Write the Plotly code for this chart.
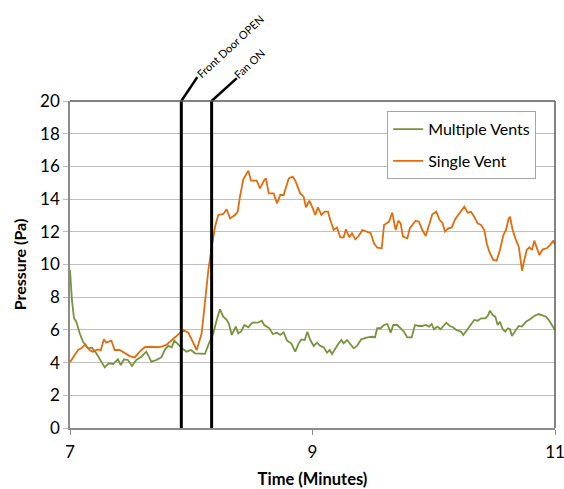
import plotly.graph_objects as go

# ---- data ----
single_t = [7.0, 7.066, 7.093, 7.126, 7.162, 7.190, 7.231, 7.253, 7.280, 7.299, 7.341, 7.369, 7.410,
            7.451, 7.492, 7.534, 7.575, 7.616, 7.671, 7.712, 7.753, 7.794, 7.825, 7.866, 7.907, 7.934,
            7.976, 8.004, 8.045, 8.086, 8.113, 8.141, 8.169, 8.196, 8.223, 8.264, 8.292, 8.320, 8.361,
            8.383, 8.402, 8.429, 8.471, 8.493, 8.540, 8.567, 8.602, 8.616, 8.639, 8.680, 8.707, 8.734,
            8.762, 8.804, 8.837, 8.858, 8.899, 8.927, 8.946, 8.974, 8.996, 9.023, 9.045, 9.073, 9.101,
            9.128, 9.147, 9.175, 9.202, 9.229, 9.257, 9.276, 9.304, 9.326, 9.353, 9.381, 9.411, 9.452,
            9.480, 9.507, 9.534, 9.571, 9.590, 9.631, 9.658, 9.686, 9.708, 9.727, 9.746, 9.782, 9.802,
            9.829, 9.851, 9.878, 9.906, 9.934, 9.961, 9.988, 10.021, 10.049, 10.071, 10.093, 10.120,
            10.148, 10.175, 10.202, 10.225, 10.252, 10.280, 10.307, 10.334, 10.362, 10.390, 10.417,
            10.437, 10.458, 10.491, 10.519, 10.546, 10.574, 10.596, 10.618, 10.629, 10.651, 10.673,
            10.701, 10.720, 10.728, 10.747, 10.767, 10.788, 10.810, 10.829, 10.849, 10.871, 10.899,
            10.932, 10.959, 10.986, 11.0]
single_v = [4.02, 4.77, 4.87, 5.12, 4.75, 4.67, 4.81, 4.75, 5.42, 5.22, 5.34, 4.77, 4.77,
            4.57, 4.40, 4.32, 4.67, 4.94, 4.97, 4.94, 4.97, 5.08, 5.28, 5.58, 5.83, 5.99,
            5.83, 5.38, 4.77, 5.79, 7.63, 9.66, 11.09, 12.31, 13.03, 13.09, 13.38, 12.82, 13.03,
            13.23, 14.15, 15.21, 15.74, 15.13, 15.13, 14.66, 15.17, 15.27, 14.35, 14.35, 13.74, 14.25,
            14.25, 15.27, 15.37, 15.13, 14.35, 14.15, 13.50, 13.90, 13.54, 13.03, 13.50, 13.03, 13.23,
            13.23, 12.72, 12.11, 12.27, 11.66, 11.66, 12.15, 11.66, 11.91, 11.54, 11.74, 12.11, 12.01,
            11.91, 11.30, 11.03, 10.99, 12.42, 12.62, 13.17, 12.11, 12.68, 12.52, 11.70, 11.60, 12.21,
            12.48, 12.68, 12.62, 12.11, 11.74, 12.42, 13.07, 13.23, 12.72, 12.56, 12.01, 12.21,
            12.27, 12.76, 13.03, 13.23, 13.54, 13.17, 13.23, 12.92, 12.52, 12.42, 12.11,
            11.30, 10.78, 10.28, 10.23, 10.89, 11.80, 12.11, 12.82, 12.92, 12.11, 11.60,
            11.09, 10.07, 9.62, 10.28, 10.89, 11.05, 10.89, 11.46, 10.99, 10.58, 10.93,
            10.99, 11.19, 11.46, 11.20]

multi_t = [7.0, 7.016, 7.033, 7.052, 7.080, 7.107, 7.148, 7.181, 7.217, 7.258, 7.286, 7.319, 7.355,
           7.396, 7.418, 7.445, 7.478, 7.511, 7.547, 7.588, 7.629, 7.671, 7.712, 7.753, 7.784, 7.811,
           7.839, 7.860, 7.893, 7.934, 7.962, 7.998, 8.031, 8.072, 8.113, 8.141, 8.182, 8.210, 8.237,
           8.264, 8.292, 8.311, 8.334, 8.367, 8.388, 8.410, 8.438, 8.471, 8.504, 8.548, 8.581, 8.602,
           8.616, 8.644, 8.672, 8.707, 8.734, 8.762, 8.790, 8.825, 8.858, 8.886, 8.908, 8.936, 8.957,
           8.982, 9.010, 9.037, 9.064, 9.092, 9.120, 9.142, 9.161, 9.188, 9.216, 9.238, 9.257, 9.285,
           9.312, 9.340, 9.367, 9.402, 9.452, 9.493, 9.515, 9.534, 9.562, 9.590, 9.617, 9.645, 9.666,
           9.699, 9.727, 9.755, 9.782, 9.818, 9.845, 9.878, 9.906, 9.934, 9.961, 9.983, 10.002,
           10.029, 10.057, 10.085, 10.103, 10.132, 10.159, 10.186, 10.225, 10.244, 10.272, 10.307,
           10.334, 10.362, 10.390, 10.425, 10.445, 10.464, 10.486, 10.508, 10.527, 10.546, 10.569,
           10.590, 10.610, 10.629, 10.645, 10.673, 10.701, 10.728, 10.761, 10.794, 10.829, 10.866,
           10.893, 10.926, 10.953, 10.981, 11.0]
multi_v = [9.66, 7.83, 6.71, 6.50, 5.79, 5.28, 4.87, 4.91, 4.57, 4.06, 3.71, 3.96, 3.91,
           4.20, 3.85, 4.20, 4.16, 3.79, 4.16, 4.36, 4.67, 4.06, 4.16, 4.32, 4.81, 5.02,
           4.94, 5.34, 5.08, 4.81, 4.67, 4.77, 4.57, 4.53, 4.53, 5.08, 5.79, 6.61, 7.26,
           6.81, 6.61, 6.36, 5.69, 6.20, 5.79, 5.89, 6.30, 6.16, 6.44, 6.44, 6.56, 6.30,
           6.24, 6.10, 5.75, 5.83, 5.69, 5.85, 5.34, 5.18, 4.67, 5.18, 5.42, 5.38, 5.89,
           5.38, 5.02, 5.22, 5.02, 4.94, 4.61, 4.77, 4.53, 4.87, 5.18, 5.38, 5.18, 5.38,
           5.12, 4.87, 5.02, 5.42, 5.54, 5.58, 5.54, 6.10, 6.10, 6.30, 6.36, 5.83, 6.30,
           6.30, 6.10, 5.89, 5.54, 5.54, 6.30, 6.24, 6.24, 6.30, 6.20, 6.36, 6.04,
           6.20, 6.04, 6.30, 6.44, 6.24, 6.16, 5.99, 5.89, 5.69, 5.99, 6.30,
           6.61, 6.56, 6.71, 6.71, 6.85, 7.18, 6.91, 6.81, 6.30, 6.50, 6.04,
           5.89, 6.10, 6.04, 5.63, 5.95, 6.24, 6.20, 6.50, 6.65, 6.85, 6.97,
           6.91, 6.81, 6.56, 6.20, 5.99]

event_times = [7.918, 8.168]
event_labels = ["Front Door OPEN", "Fan ON"]

x_ticks = [7, 9, 11]
y_ticks = list(range(0, 21, 2))

FONT = "Lato, Carlito, Calibri, sans-serif"
GREEN = "#77933C"
ORANGE = "#E46C0A"
GRID = "#BFBFBF"

X0, X1 = 7, 11
Y0, Y1 = 0, 20

fig = go.Figure()
fig.add_trace(go.Scatter(x=multi_t, y=multi_v, mode="lines", name="Multiple Vents",
                         line=dict(color=GREEN, width=1.8), legendgroup="a"))
fig.add_trace(go.Scatter(x=single_t, y=single_v, mode="lines", name="Single Vent",
                         line=dict(color=ORANGE, width=1.8), legendgroup="b"))

# event lines
for t in event_times:
    fig.add_shape(type="line", xref="x", yref="y", x0=t, x1=t, y0=Y0, y1=Y1,
                  line=dict(color="black", width=3), layer="above")

# diagonal leaders and rotated labels (paper coordinates derived from event times)
leader = [(0.033, 0.073), (0.052, 0.070)]
label_off = [(0.100, 0.168), (0.078, 0.114)]
for t, lab, (dx, dy), (lx, ly) in zip(event_times, event_labels, leader, label_off):
    px = (t - X0) / (X1 - X0)
    fig.add_shape(type="line", xref="paper", yref="paper", x0=px, x1=px + dx, y0=1, y1=1 + dy,
                  line=dict(color="black", width=2.5))
    fig.add_annotation(xref="paper", yref="paper", x=px + lx, y=1 + ly,
                       text=lab, showarrow=False, textangle=-43,
                       font=dict(family=FONT, size=11, color="black"),
                       xanchor="center", yanchor="middle")

# top and right borders
fig.add_shape(type="line", xref="paper", yref="paper", x0=0, x1=1, y0=1, y1=1,
              line=dict(color="#595959", width=1.5))
fig.add_shape(type="line", xref="paper", yref="paper", x0=1, x1=1, y0=0, y1=1,
              line=dict(color="#595959", width=1.5))

fig.update_layout(
    width=564, height=489,
    margin=dict(l=70, r=9, t=101, b=61, autoexpand=False),
    paper_bgcolor="white", plot_bgcolor="white",
    font=dict(family=FONT, color="black"),
    showlegend=True,
    legend=dict(x=0.654, y=0.969, xanchor="left", yanchor="top",
                bordercolor="#A6A6A6", borderwidth=1, bgcolor="white",
                font=dict(family=FONT, size=16, color="black"),
                traceorder="grouped", tracegroupgap=8),
    xaxis=dict(range=[X0, X1], tickvals=x_ticks, ticktext=[str(v) for v in x_ticks],
               showgrid=False, zeroline=False, showline=True, linecolor="#8C8C8C", linewidth=1.5,
               ticks="outside", ticklen=5, tickcolor="#8C8C8C", automargin=False,
               ticklabeloverflow="allow", ticklabelstandoff=3,
               tickfont=dict(family=FONT, size=17),
               title=dict(text="<b>Time (Minutes)</b>", font=dict(family=FONT, size=16.5), standoff=15)),
    yaxis=dict(range=[Y0, Y1], tickvals=y_ticks,
               showgrid=True, gridcolor=GRID, gridwidth=1, zeroline=False,
               showline=True, linecolor="#8C8C8C", linewidth=1.5,
               ticks="outside", ticklen=5, tickcolor=GRID, automargin=False,
               tickfont=dict(family=FONT, size=17),
               title=dict(text="<b>Pressure (Pa)</b>", font=dict(family=FONT, size=16), standoff=10)),
)

fig.write_html("out.html", config={"displayModeBar": False},
               post_script="document.body.style.margin='0';document.body.style.padding='0';")
